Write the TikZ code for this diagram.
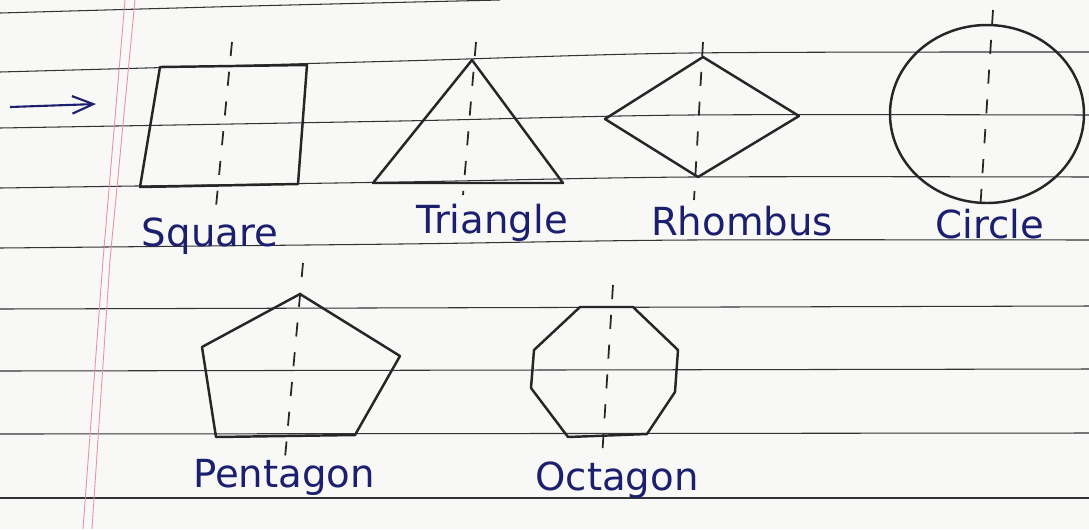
\documentclass[tikz,border=0pt]{standalone}
\usepackage{fontspec}
\setmainfont{DejaVu Sans}
\usetikzlibrary{arrows.meta}

\definecolor{ink}{HTML}{1B1F6E}
\definecolor{paper}{HTML}{F8F8F6}
\definecolor{marginpink}{HTML}{E98FB2}

\begin{document}
\begin{tikzpicture}[x=0.02cm, y=-0.02cm,
		rule/.style={draw=black!80, line width=0.6pt},
		marginline/.style={draw=marginpink, line width=0.5pt},
		outline/.style={draw=black!85, line width=1.4pt, line join=round},
		symaxis/.style={draw=black!85, line width=1pt, dash pattern=on 8pt off 9pt},
		handtext/.style={text=ink, font=\fontsize{22}{26}\selectfont, anchor=base, inner sep=0pt}]
		\fill[paper] (0, 0) rectangle (1089, 529);
		\useasboundingbox (0, 0) rectangle (1089, 529);
		
		% ruled lines of the page
		\draw[rule] plot[smooth] coordinates {(0, 13) (250, 6) (500, 0)};
		\draw[rule] plot[smooth] coordinates {(0, 72) (400, 61) (690, 53) (1089, 52)};
		\draw[rule] plot[smooth] coordinates {(0, 128) (400, 121) (690, 115) (1089, 115)};
		\draw[rule] plot[smooth] coordinates {(0, 188) (400, 182) (690, 177) (1089, 177)};
		\draw[rule] plot[smooth] coordinates {(0, 248) (400, 244) (690, 240) (1089, 240)};
		\draw[rule] (0, 309) -- (1089, 306);
		\draw[rule] (0, 371) -- (1089, 369);
		\draw[rule] (0, 434) -- (1089, 433);
		\draw[rule] (0, 498) -- (1089, 498);
		
		% margin
		\draw[marginline] (125, 0) -- (103, 260) -- (83, 529);
		\draw[marginline] (135, 0) -- (110, 260) -- (92, 529);
		
		% arrow
		\coordinate (arrow start) at (10, 107);
		\coordinate (arrow end) at (96, 104);
		\draw[ink, line width=1.2pt, -{Straight Barb[length=12pt, width=10pt]}] (arrow start) -- (arrow end);
		
		% Square
		\coordinate (sq-tl) at (160, 67);
		\coordinate (sq-tr) at (307, 65);
		\coordinate (sq-br) at (298, 184);
		\coordinate (sq-bl) at (140, 187);
		\draw[outline] (sq-tl) -- (sq-tr) -- (sq-br) -- (sq-bl) -- cycle;
		\coordinate (sq-top) at (232, 42);
		\coordinate (sq-bot) at (215, 217);
		\draw[symaxis] (sq-top) -- (sq-bot);
		\node[handtext] (square) at (210, 246) {Square};
		
		% Triangle
		\coordinate (tri-apex) at (472, 60);
		\coordinate (tri-left) at (373, 183);
		\coordinate (tri-right) at (563, 183);
		\draw[outline] (tri-apex) -- (tri-right) -- (tri-left) -- cycle;
		\coordinate (tri-top) at (476, 42);
		\coordinate (tri-bot) at (463, 195);
		\draw[symaxis] (tri-top) -- (tri-bot);
		\node[handtext] (triangle) at (492, 233) {Triangle};
		
		% Rhombus
		\coordinate (rh-top) at (703, 57);
		\coordinate (rh-right) at (799, 116);
		\coordinate (rh-bottom) at (698, 177);
		\coordinate (rh-left) at (605, 119);
		\draw[outline] (rh-top) -- (rh-right) -- (rh-bottom) -- (rh-left) -- cycle;
		\coordinate (rh-axis top) at (703, 42);
		\coordinate (rh-axis bot) at (694, 200);
		\draw[symaxis] (rh-axis top) -- (rh-axis bot);
		\node[handtext] (rhombus) at (742, 235) {Rhombus};
		
		% Circle
		\coordinate (ci-centre) at (987, 114);
		\draw[outline] (ci-centre) circle [x radius=97, y radius=89];
		\coordinate (ci-top) at (993, 10);
		\coordinate (ci-bot) at (980, 212);
		\draw[symaxis] (ci-top) -- (ci-bot);
		\node[handtext] (circle) at (990, 238) {Circle};
		
		% Pentagon
		\coordinate (pe-1) at (300, 294);
		\coordinate (pe-2) at (400, 356);
		\coordinate (pe-3) at (355, 435);
		\coordinate (pe-4) at (216, 437);
		\coordinate (pe-5) at (202, 347);
		\draw[outline] (pe-1) -- (pe-2) -- (pe-3) -- (pe-4) -- (pe-5) -- cycle;
		\coordinate (pe-top) at (303, 263);
		\coordinate (pe-bot) at (285, 458);
		\draw[symaxis] (pe-top) -- (pe-bot);
		\node[handtext] (pentagon) at (284, 487) {Pentagon};
		
		% Octagon
		\coordinate (oc-1) at (580, 307);
		\coordinate (oc-2) at (633, 307);
		\coordinate (oc-3) at (678, 350);
		\coordinate (oc-4) at (675, 392);
		\coordinate (oc-5) at (647, 434);
		\coordinate (oc-6) at (568, 437);
		\coordinate (oc-7) at (531, 388);
		\coordinate (oc-8) at (534, 350);
		\draw[outline] (oc-1) -- (oc-2) -- (oc-3) -- (oc-4) -- (oc-5) -- (oc-6) -- (oc-7) -- (oc-8) -- cycle;
		\coordinate (oc-top) at (613, 285);
		\coordinate (oc-bot) at (602, 458);
		\draw[symaxis] (oc-top) -- (oc-bot);
		\node[handtext] (octagon) at (617, 490) {Octagon};
	\end{tikzpicture}
\end{document}
